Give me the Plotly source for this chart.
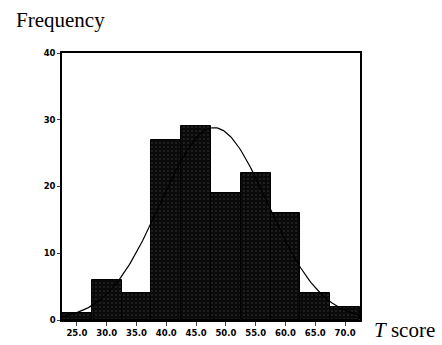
import numpy as np
import plotly.graph_objects as go

# Data
bin_centers = [25, 30, 35, 40, 45, 50, 55, 60, 65, 70]
frequencies = [1, 6, 4, 27, 29, 19, 22, 16, 4, 2]
tick_vals = [25, 30, 35, 40, 45, 50, 55, 60, 65, 70]
tick_text = ["25.0", "30.0", "35.0", "40.0", "45.0", "50.0", "55.0", "60.0", "65.0", "70.0"]
y_ticks = [0, 10, 20, 30, 40]

# fitted normal curve parameters
fit_mean = 48.0
fit_sd = 9.0
bin_width = 5.0

n_total = sum(frequencies)
xs = np.linspace(22.5, 72.5, 201)
ys = n_total * bin_width / (fit_sd * np.sqrt(2 * np.pi)) * np.exp(-0.5 * ((xs - fit_mean) / fit_sd) ** 2)

W, H = 442, 345
L, T, PW, PH = 62, 53, 298, 267

fig = go.Figure()
fig.add_trace(go.Bar(
    x=bin_centers, y=frequencies, width=bin_width,
    marker=dict(color="#0a0a0a", line=dict(color="black", width=1),
                pattern=dict(shape=".", fgcolor="#6e6e6e", bgcolor="#0a0a0a", size=4, solidity=0.12)),
    showlegend=False, hoverinfo="skip",
))
fig.add_trace(go.Scatter(x=xs, y=ys, mode="lines", line=dict(color="black", width=1.2),
                         showlegend=False, hoverinfo="skip"))

fig.update_layout(
    width=W, height=H,
    margin=dict(l=L, r=W - L - PW, t=T, b=H - T - PH),
    paper_bgcolor="white", plot_bgcolor="white",
    bargap=0,
    font=dict(family="DejaVu Sans", color="black"),
)
fig.update_xaxes(range=[22.5, 72.5], tickvals=tick_vals, ticktext=tick_text, automargin=False,
                 tickfont=dict(size=8.5, family="DejaVu Sans", weight="bold"), ticks="outside", ticklen=4,
                 showline=True, linecolor="black", linewidth=1.5, mirror=True, showgrid=False, zeroline=False)
fig.update_yaxes(range=[0, 40], tickvals=y_ticks, automargin=False,
                 tickfont=dict(size=8.5, family="DejaVu Sans", weight="bold"), ticks="outside", ticklen=3,
                 showline=True, linecolor="black", linewidth=1.5, mirror=True, showgrid=False, zeroline=False)

fig.add_annotation(text="Frequency", xref="paper", yref="paper", x=-L / PW, y=1 + (T - 20) / PH,
                   xanchor="left", yanchor="middle", showarrow=False, xshift=14,
                   font=dict(family="Liberation Serif", size=21, color="black"))
fig.add_annotation(text="<i>T</i> score", xref="paper", yref="paper", x=1, y=0,
                   xanchor="left", yanchor="middle", showarrow=False, xshift=12, yshift=-10,
                   font=dict(family="Liberation Serif", size=21, color="black"))

fig.write_html("out.html", config={"displayModeBar": False},
               post_script="document.body.style.margin='0';document.body.style.overflow='hidden';")
